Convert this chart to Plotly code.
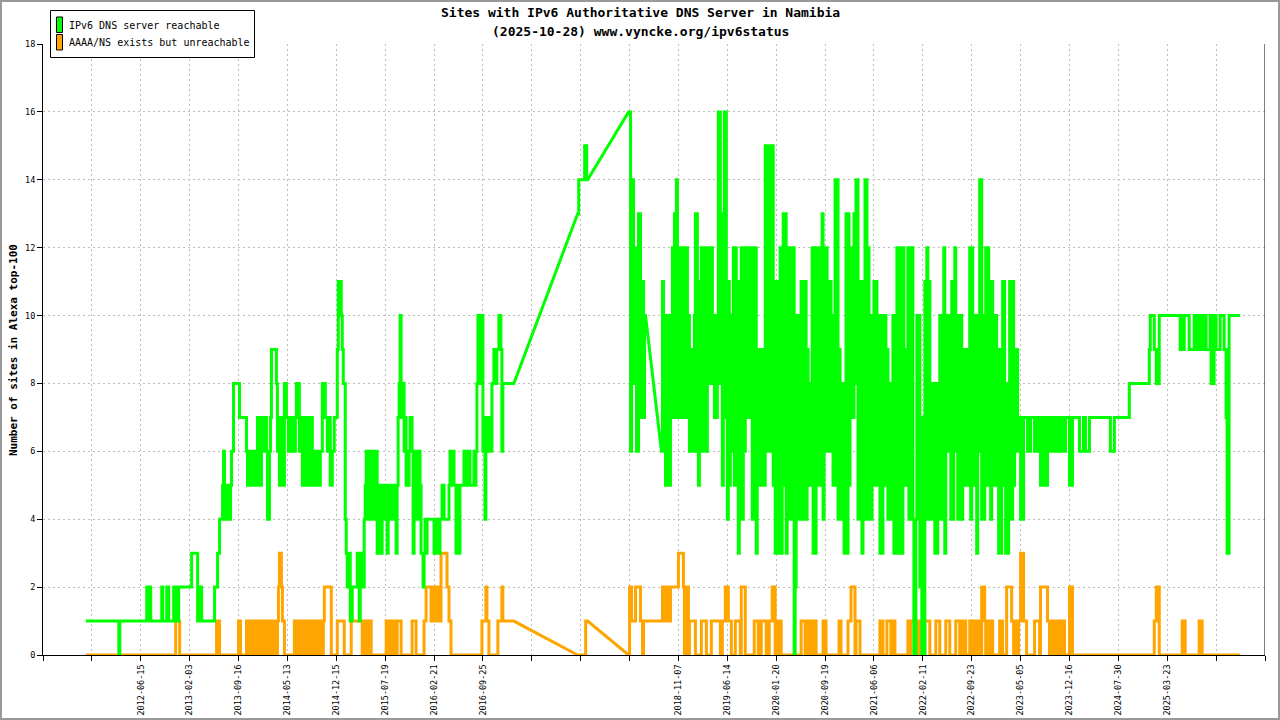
import plotly.graph_objects as go

# Sample axis: one tick every 49 samples, tick 0 sits on the y axis.
TICK_STEP = 49
tick_labels = [
    "", "", "2012-06-15", "2013-02-03", "2013-09-16", "2014-05-13", "2014-12-15",
    "2015-07-19", "2016-02-21", "2016-09-25", "", "", "", "2018-11-07", "2019-06-14",
    "2020-01-20", "2020-09-19", "2021-06-06", "2022-02-11", "2022-09-23", "2023-05-05",
    "2023-12-16", "2024-07-30", "2025-03-23", "", "",
]
y_ticks = [0, 2, 4, 6, 8, 10, 12, 14, 16, 18]

# Series are (sample, value) change points: the value holds until the next point.
# A block ends with (sample, None); gaps between blocks are bridged by a straight line.
reach_1 = [
    (43, 1), (76, 0), (77, 1), (104, 2), (106, 1), (107, 2), (108, 1), (119, 2), (120, 1), (124, 2),
    (126, 1), (131, 2), (132, 1), (133, 2), (134, 1), (136, 2), (149, 3), (155, 1), (156, 2), (157, 1),
    (158, 2), (159, 1), (172, 2), (175, 3), (177, 4), (180, 5), (181, 6), (182, 5), (183, 4), (185, 5),
    (186, 4), (188, 5), (189, 6), (191, 8), (197, 7), (204, 6), (205, 5), (206, 6), (207, 5), (208, 6),
    (209, 5), (211, 6), (212, 5), (213, 6), (214, 5), (215, 7), (216, 5), (217, 6), (218, 5), (219, 7),
    (221, 6), (222, 7), (224, 6), (225, 4), (227, 6), (228, 7), (229, 9), (234, 8), (235, 6), (236, 7),
    (237, 5), (238, 7), (239, 6), (240, 5), (242, 8), (244, 7), (246, 6), (247, 7), (249, 6), (250, 7),
    (252, 6), (253, 7), (254, 8), (257, 6), (258, 7), (260, 5), (261, 6), (262, 5), (263, 7), (264, 5),
    (265, 6), (267, 7), (268, 5), (269, 7), (270, 6), (271, 5), (272, 6), (273, 5), (275, 6), (276, 5),
    (278, 6), (280, 8), (283, 7), (285, 6), (286, 7), (288, 5), (290, 6), (292, 7), (295, 9), (296, 11),
    (299, 10), (300, 9), (301, 8), (303, 4), (304, 3), (305, 2), (307, 3), (308, 1), (310, 2), (315, 3),
    (317, 1), (318, 3), (319, 2), (322, 4), (323, 5), (324, 6), (325, 4), (326, 6), (327, 5), (328, 6),
    (329, 4), (330, 6), (331, 5), (332, 6), (333, 4), (334, 6), (335, 3), (336, 5), (337, 4), (338, 5),
    (339, 3), (340, 5), (341, 4), (342, 5), (343, 4), (344, 5), (345, 3), (346, 5), (347, 4), (348, 5),
    (349, 4), (350, 5), (351, 4), (353, 5), (354, 3), (355, 5), (356, 7), (357, 8), (358, 10), (359, 8),
    (360, 7), (361, 8), (362, 6), (363, 7), (364, 5), (365, 6), (366, 5), (367, 6), (368, 7), (370, 6),
    (371, 3), (372, 4), (373, 6), (374, 5), (375, 6), (376, 4), (377, 6), (378, 5), (379, 3), (381, 2),
    (382, 3), (383, 4), (384, 3), (385, 4), (392, 3), (393, 4), (394, 3), (395, 4), (396, 3), (398, 4),
    (400, 5), (402, 4), (407, 5), (408, 6), (409, 5), (410, 6), (412, 5), (414, 3), (416, 5), (417, 3),
    (418, 5), (422, 6), (423, 5), (424, 6), (425, 5), (427, 6), (428, 5), (432, 6), (433, 5), (434, 6),
    (435, 8), (436, 10), (438, 8), (439, 10), (441, 6), (443, 4), (444, 7), (446, 6), (447, 7), (448, 6),
    (450, 8), (452, 9), (454, 8), (455, 9), (457, 10), (459, 9), (460, 6), (461, 8), (472, None),
]
reach_2 = [(536, 13), (537, 14), (543, 15), (545, 14), (546, None)]
reach_3 = [
    (587, 16), (589, 6), (590, 14), (592, 8), (594, 12), (595, 6), (597, 13), (599, 7), (600, 11),
    (602, 7), (603, 10), (604, None),
]
reach_4 = [
    (620, 6), (621, 11), (622, 7), (623, 10), (624, 5), (625, 10), (626, 5), (627, 8), (628, 5), (629, 10),
    (630, 7), (631, 12), (632, 7), (633, 13), (634, 8), (635, 14), (636, 7), (637, 12), (638, 8), (639, 12),
    (640, 7), (641, 11), (642, 7), (643, 12), (644, 8), (645, 12), (646, 7), (647, 10), (648, 6), (649, 9),
    (650, 6), (651, 9), (652, 6), (653, 10), (654, 13), (656, 6), (657, 5), (658, 11), (659, 6), (660, 12),
    (661, 6), (662, 11), (663, 7), (664, 12), (665, 6), (666, 12), (667, 8), (668, 12), (669, 8), (670, 12),
    (671, 8), (672, 10), (673, 7), (674, 10), (675, 7), (676, 9), (677, 16), (679, 8), (680, 13), (681, 5),
    (682, 12), (683, 16), (685, 7), (686, 4), (687, 11), (688, 5), (689, 10), (690, 6), (691, 9), (692, 12),
    (693, 5), (694, 12), (695, 6), (696, 11), (697, 3), (698, 11), (699, 5), (700, 12), (701, 4), (702, 12),
    (703, 6), (704, 10), (705, 7), (706, 12), (707, 8), (708, 12), (709, 7), (710, 12), (711, 4), (712, 10),
    (713, 5), (714, 12), (715, 3), (716, 9), (717, 5), (718, 9), (719, 5), (720, 8), (721, 6), (722, 9),
    (723, 5), (724, 15), (726, 6), (727, 15), (728, 6), (729, 8), (730, 15), (732, 5), (733, 11), (734, 3),
    (735, 10), (736, 3), (737, 11), (738, 5), (739, 12), (740, 3), (741, 11), (742, 13), (743, 5), (744, 13),
    (745, 3), (746, 10), (747, 4), (748, 12), (749, 6), (750, 12), (751, 4), (752, 12), (753, 0), (754, 2),
    (755, 6), (756, 10), (757, 4), (758, 10), (759, 5), (760, 11), (761, 4), (762, 10), (763, 6), (764, 11),
    (765, 4), (766, 9), (767, 5), (768, 8), (769, 5), (770, 8), (771, 12), (772, 3), (773, 12), (774, 3),
    (775, 12), (776, 6), (777, 12), (778, 5), (779, 12), (780, 6), (781, 13), (782, 4), (783, 12), (784, 6),
    (785, 12), (786, 6), (787, 11), (788, 6), (789, 11), (790, 7), (791, 10), (792, 5), (793, 10), (794, 14),
    (795, 5), (796, 14), (797, 4), (798, 9), (799, 4), (800, 8), (801, 4), (802, 8), (803, 3), (804, 8),
    (805, 13), (806, 3), (807, 13), (808, 5), (809, 12), (810, 7), (811, 11), (812, 7), (813, 13), (814, 8),
    (815, 14), (817, 4), (818, 9), (819, 4), (820, 11), (821, 3), (822, 10), (823, 4), (824, 14), (826, 4),
    (827, 12), (828, 4), (829, 9), (830, 4), (831, 10), (832, 5), (833, 11), (834, 5), (835, 11), (836, 5),
    (837, 10), (838, 6), (839, 3), (840, 10), (841, 3), (842, 10), (843, 5), (844, 10), (845, 6), (846, 9),
    (847, 4), (848, 8), (849, 4), (850, 8), (851, 5), (852, 10), (853, 3), (854, 10), (855, 4), (856, 12),
    (857, 3), (858, 12), (859, 5), (860, 12), (861, 3), (862, 12), (863, 6), (864, 9), (865, 5), (866, 9),
    (867, 12), (868, 4), (869, 12), (870, 5), (871, 12), (872, 4), (873, 0), (875, 4), (876, 10), (877, 4),
    (878, 10), (879, 2), (880, 7), (881, 0), (884, 11), (885, 4), (886, 12), (887, 4), (888, 11), (889, 4),
    (890, 8), (891, 4), (892, 8), (893, 5), (894, 3), (895, 8), (896, 3), (897, 8), (898, 4), (899, 10),
    (900, 4), (901, 9), (902, 5), (903, 12), (904, 3), (905, 10), (906, 6), (907, 10), (908, 6), (909, 9),
    (910, 4), (911, 11), (912, 4), (913, 10), (914, 12), (915, 6), (916, 10), (917, 4), (918, 10), (919, 5),
    (920, 10), (921, 4), (922, 9), (923, 6), (924, 9), (925, 5), (926, 9), (927, 5), (928, 8), (929, 12),
    (930, 4), (931, 12), (932, 5), (933, 10), (934, 5), (935, 10), (936, 3), (937, 10), (938, 6), (939, 14),
    (941, 4), (942, 10), (943, 4), (944, 9), (945, 12), (946, 5), (947, 12), (948, 6), (949, 11), (950, 4),
    (951, 11), (952, 5), (953, 10), (954, 5), (955, 10), (956, 5), (957, 9), (958, 3), (959, 9), (960, 3),
    (961, 8), (962, 11), (964, 5), (965, 3), (966, 8), (967, 3), (968, 6), (969, 11), (971, 4), (972, 11),
    (973, 5), (974, 9), (975, 6), (976, 9), (977, 7), (978, 6), (979, 7), (980, 4), (981, 7), (982, 4),
    (983, 7), (987, 6), (990, 7), (994, 6), (996, 7), (998, 6), (999, 7), (1000, 5), (1001, 7), (1002, 5),
    (1004, 7), (1005, 5), (1007, 7), (1008, 6), (1009, 7), (1010, 6), (1011, 7), (1012, 6), (1013, 7),
    (1014, 6), (1015, 7), (1016, 6), (1017, 7), (1018, 6), (1019, 7), (1020, 6), (1021, 7), (1022, 6),
    (1023, 7), (1024, 6), (1025, 7), (1029, 5), (1032, 7), (1039, 6), (1043, 7), (1045, 6), (1049, 7),
    (1070, 6), (1074, 7), (1089, 8), (1109, 9), (1110, 10), (1114, 9), (1116, 8), (1119, 10), (1140, 9),
    (1141, 10), (1142, 9), (1144, 10), (1149, 9), (1154, 10), (1155, 9), (1157, 10), (1158, 9), (1160, 10),
    (1161, 9), (1163, 10), (1166, 9), (1170, 10), (1171, 8), (1174, 10), (1176, 9), (1180, 10), (1184, 9),
    (1186, 7), (1187, 3), (1189, 10), (1200, None),
]

unreach_1 = [
    (43, 0), (133, 1), (137, 0), (174, 1), (177, 0), (196, 1), (198, 0), (204, 1), (207, 0), (209, 1),
    (210, 0), (211, 1), (213, 0), (214, 1), (215, 0), (216, 1), (217, 0), (218, 1), (220, 0), (221, 1),
    (222, 0), (223, 1), (224, 0), (225, 1), (226, 0), (227, 1), (229, 0), (230, 1), (231, 0), (232, 1),
    (234, 0), (235, 1), (236, 2), (237, 3), (239, 2), (240, 1), (242, 0), (252, 1), (253, 0), (254, 1),
    (256, 0), (257, 1), (258, 0), (259, 1), (260, 0), (261, 1), (262, 0), (263, 1), (265, 0), (266, 1),
    (267, 0), (268, 1), (269, 0), (270, 1), (272, 0), (273, 1), (274, 0), (275, 1), (276, 0), (277, 1),
    (278, 0), (279, 1), (280, 0), (281, 1), (282, 2), (289, 0), (295, 1), (302, 0), (309, 1), (320, 0),
    (322, 1), (323, 0), (325, 1), (326, 0), (327, 1), (329, 0), (344, 1), (347, 0), (349, 1), (352, 0),
    (355, 1), (359, 0), (370, 1), (374, 0), (382, 1), (384, 2), (389, 1), (391, 2), (393, 1), (395, 2),
    (397, 1), (399, 3), (405, 2), (407, 1), (409, 0), (440, 1), (444, 2), (445, 1), (447, 0), (456, 1),
    (460, 2), (461, 1), (472, None),
]
unreach_2 = [(536, 0), (544, 1), (546, None)]
unreach_3 = [(587, 0), (588, 2), (590, 1), (594, 2), (599, 1), (601, 0), (602, 1), (604, None)]
unreach_4 = [
    (620, 1), (621, 2), (624, 1), (625, 2), (626, 1), (627, 2), (628, 1), (629, 2), (637, 3), (642, 2),
    (643, 0), (644, 2), (645, 1), (646, 2), (647, 0), (648, 1), (654, 0), (660, 1), (665, 0), (670, 1),
    (679, 0), (681, 1), (684, 2), (687, 1), (690, 0), (694, 1), (699, 0), (700, 2), (704, 0), (713, 1),
    (717, 0), (720, 1), (725, 0), (728, 1), (731, 2), (734, 0), (737, 1), (740, 0), (760, 1), (764, 0),
    (765, 1), (767, 0), (768, 1), (770, 0), (771, 1), (773, 0), (774, 1), (775, 0), (782, 1), (785, 0),
    (798, 1), (800, 0), (807, 1), (810, 2), (814, 0), (815, 1), (819, 0), (839, 1), (842, 0), (846, 1),
    (850, 0), (852, 1), (854, 0), (867, 1), (869, 0), (870, 1), (875, 0), (877, 1), (879, 0), (880, 1),
    (883, 0), (884, 1), (889, 0), (895, 1), (899, 0), (905, 1), (909, 0), (915, 1), (919, 0), (922, 1),
    (925, 0), (929, 1), (930, 0), (931, 1), (933, 0), (934, 1), (935, 0), (936, 1), (937, 0), (938, 1),
    (940, 0), (941, 2), (944, 1), (945, 0), (946, 1), (947, 0), (948, 1), (950, 0), (951, 1), (952, 0),
    (959, 1), (962, 0), (966, 2), (971, 1), (973, 0), (974, 1), (977, 0), (978, 1), (980, 3), (983, 1),
    (986, 0), (994, 1), (999, 0), (1000, 2), (1007, 1), (1009, 0), (1010, 1), (1012, 0), (1013, 1),
    (1015, 0), (1016, 1), (1018, 0), (1019, 1), (1021, 0), (1022, 1), (1024, 0), (1029, 2), (1032, 0),
    (1114, 1), (1116, 2), (1119, 0), (1142, 1), (1145, 0), (1159, 1), (1162, 0), (1200, None),
]

GREEN = "#00ff00"
ORANGE = "#ffa500"
MONO = "DejaVu Sans Mono"

# plot area in page pixels
L, R, T, B = 43, 1265, 44, 655


def px(x):
    return (x - L) / (R - L)


def py(y):
    return (B - y) / (B - T)


def step_path(blocks):
    xs, ys = [], []
    for block in blocks:
        for (s, v), (s_next, _) in zip(block, block[1:]):
            xs += [s, s_next]
            ys += [v, v]
    return xs, ys


fig = go.Figure()

ux, uy = step_path([unreach_1, unreach_2, unreach_3, unreach_4])
gx, gy = step_path([reach_1, reach_2, reach_3, reach_4])

fig.add_trace(go.Scatter(x=ux, y=uy, mode="lines", name="AAAA/NS exists but unreachable",
                         line=dict(color=ORANGE, width=3), showlegend=False))
fig.add_trace(go.Scatter(x=gx, y=gy, mode="lines", name="IPv6 DNS server reachable",
                         line=dict(color=GREEN, width=3), showlegend=False))

n_ticks = len(tick_labels)
x_max = TICK_STEP * (n_ticks - 1)

fig.update_xaxes(
    range=[0, x_max],
    tickvals=[TICK_STEP * k for k in range(n_ticks)],
    ticktext=tick_labels,
    tickangle=-90,
    ticks="outside", ticklen=5, tickcolor="black",
    tickfont=dict(family=MONO, size=8.5, color="black"),
    showgrid=True, gridcolor="#bdbdbd", griddash="2px,3px", gridwidth=1,
    showline=True, linecolor="black", linewidth=1,
    zeroline=False, automargin=False,
)
fig.update_yaxes(
    range=[0, 18],
    tickvals=y_ticks,
    ticks="outside", ticklen=5, tickcolor="black",
    tickfont=dict(family=MONO, size=8.5, color="black"),
    showgrid=True, gridcolor="#bdbdbd", griddash="2px,3px", gridwidth=1,
    showline=True, linecolor="black", linewidth=1,
    zeroline=False, automargin=False,
)

shapes = [
    # right frame line
    dict(type="line", xref="x", yref="y", x0=x_max, x1=x_max, y0=0, y1=18,
         line=dict(color="black", width=1)),
    # page border
    dict(type="rect", xref="paper", yref="paper", x0=px(1), x1=px(1279), y0=py(1), y1=py(719),
         line=dict(color="#9a9a9a", width=2)),
    # legend box and swatches
    dict(type="rect", xref="paper", yref="paper", x0=px(50.5), x1=px(254.5), y0=py(10.5), y1=py(57.5),
         line=dict(color="black", width=1), fillcolor="white"),
    dict(type="rect", xref="paper", yref="paper", x0=px(56.5), x1=px(62.5), y0=py(17), y1=py(32.5),
         line=dict(color="black", width=1), fillcolor=GREEN),
    dict(type="rect", xref="paper", yref="paper", x0=px(56.5), x1=px(62.5), y0=py(34.5), y1=py(50),
         line=dict(color="black", width=1), fillcolor=ORANGE),
]

annotations = [
    dict(text="<b>Sites with IPv6 Authoritative DNS Server in Namibia</b>", x=px(640), y=py(13)),
    dict(text="<b>(2025-10-28) www.vyncke.org/ipv6status</b>", x=px(640), y=py(32)),
]
for a in annotations:
    a.update(xref="paper", yref="paper", showarrow=False, xanchor="center", yanchor="middle",
             font=dict(family=MONO, size=13, color="black"))

annotations += [
    dict(text="<b>Number of sites in Alexa top-100</b>", x=px(13), y=py(350), textangle=-90,
         xref="paper", yref="paper", showarrow=False, xanchor="center", yanchor="middle",
         font=dict(family=MONO, size=11, color="black")),
    dict(text="IPv6 DNS server reachable", x=px(67), y=py(25),
         xref="paper", yref="paper", showarrow=False, xanchor="left", yanchor="middle",
         font=dict(family=MONO, size=10, color="black")),
    dict(text="AAAA/NS exists but unreachable", x=px(67), y=py(42.5),
         xref="paper", yref="paper", showarrow=False, xanchor="left", yanchor="middle",
         font=dict(family=MONO, size=10, color="black")),
]

fig.update_layout(
    width=1280, height=720,
    margin=dict(l=L, r=1280 - R, t=T, b=720 - B, pad=0),
    paper_bgcolor="white", plot_bgcolor="white",
    shapes=shapes, annotations=annotations,
    showlegend=False,
    font=dict(family=MONO, color="black"),
)

# the page body has a default 8px margin; drop it so the figure fills the window
fig.write_html("out.html", config={"displayModeBar": False},
               post_script="document.body.style.margin = '0';")
